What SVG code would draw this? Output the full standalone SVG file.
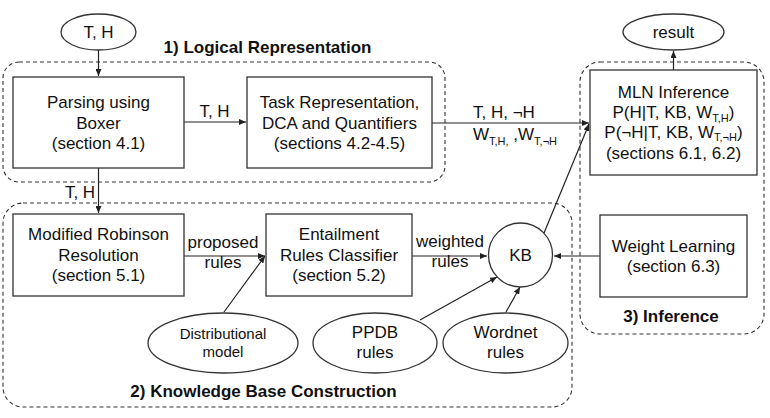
<svg xmlns="http://www.w3.org/2000/svg" width="770" height="418" viewBox="0 0 770 418">
<style>
.box{fill:#fff;stroke:#333;stroke-width:1.3}
.grp{fill:none;stroke:#333;stroke-width:1.1;stroke-dasharray:4 3}
.t{font-family:"Liberation Sans",Arial,sans-serif;font-size:17px;fill:#111;text-anchor:middle}
.s{font-size:15px}
.b{font-weight:bold}
.sub{font-size:11px}
.st{text-anchor:start}
.ln{fill:none;stroke:#222;stroke-width:1.2;marker-end:url(#ah)}
</style>
<defs>
<marker id="ah" markerWidth="8" markerHeight="6" refX="7" refY="3" orient="auto" markerUnits="userSpaceOnUse">
<path d="M0,0 L7,3 L0,6 z" fill="#222"/>
</marker>
</defs>
<rect width="770" height="418" fill="#fff"/>

<g id="groups">
<rect class="grp" x="3" y="62" width="442" height="120" rx="16"/>
<text class="t b" x="267.5" y="53">1) Logical Representation</text>
<rect class="grp" x="3" y="203" width="569" height="204" rx="20"/>
<text class="t b" x="263.5" y="397">2) Knowledge Base Construction</text>
<rect class="grp" x="580" y="62" width="184" height="272" rx="20"/>
<text class="t b" x="671" y="322">3) Inference</text>
</g>

<g id="connectors">
<line class="ln" x1="98.5" y1="50" x2="98.5" y2="76"/>
<line class="ln" x1="184" y1="122" x2="246" y2="122"/>
<text class="t" x="214.5" y="117">T, H</text>
<line class="ln" x1="98.5" y1="168" x2="98.5" y2="213"/>
<text class="t" x="80" y="198">T, H</text>
<line class="ln" x1="432" y1="123" x2="589" y2="123"/>
<text class="t st" x="473" y="118">T, H, ¬H</text>
<text class="t st" x="473" y="140">W<tspan class="sub" dy="5">T,H,</tspan><tspan dy="-5"> ,W</tspan><tspan class="sub" dy="5">T,¬H</tspan></text>
<line class="ln" x1="184" y1="256" x2="265" y2="256"/>
<text class="t" x="223" y="248">proposed</text>
<text class="t" x="223" y="268">rules</text>
<line class="ln" x1="224" y1="312" x2="265" y2="256"/>
<line class="ln" x1="412" y1="256" x2="487" y2="256"/>
<text class="t" x="450" y="247">weighted</text>
<text class="t" x="450" y="267">rules</text>
<line class="ln" x1="420" y1="320" x2="497" y2="277"/>
<line class="ln" x1="506" y1="312" x2="520" y2="287"/>
<line class="ln" x1="600" y1="256" x2="554" y2="256"/>
<line class="ln" x1="544" y1="233" x2="589" y2="124"/>
<line class="ln" x1="673.5" y1="70" x2="673.5" y2="51"/>
</g>

<g id="th">
<ellipse class="box" cx="98.5" cy="32" rx="37.5" ry="18"/>
<text class="t" x="98.5" y="38">T, H</text>
</g>
<g id="parsing">
<rect class="box" x="13" y="77" width="171" height="91"/>
<text class="t" x="98.5" y="108">Parsing using</text>
<text class="t" x="98.5" y="129">Boxer</text>
<text class="t" x="98.5" y="149">(section 4.1)</text>
</g>
<g id="task">
<rect class="box" x="247" y="77" width="185" height="91"/>
<text class="t" x="339.5" y="108">Task Representation,</text>
<text class="t" x="339.5" y="129">DCA and Quantifiers</text>
<text class="t" x="339.5" y="149">(sections 4.2-4.5)</text>
</g>
<g id="result">
<ellipse class="box" cx="673.5" cy="32" rx="50.5" ry="18"/>
<text class="t" x="673.5" y="38">result</text>
</g>
<g id="mln">
<rect class="box" x="590" y="70" width="167" height="105"/>
<text class="t" x="673.5" y="98">MLN Inference</text>
<text class="t" x="673.5" y="118">P(H|T, KB, W<tspan class="sub" dy="4">T,H</tspan><tspan dy="-4">)</tspan></text>
<text class="t" x="673.5" y="138">P(¬H|T, KB, W<tspan class="sub" dy="3">T,¬H</tspan><tspan dy="-3">)</tspan></text>
<text class="t" x="673.5" y="159">(sections 6.1, 6.2)</text>
</g>
<g id="robinson">
<rect class="box" x="13" y="214" width="171" height="82"/>
<text class="t" x="98.5" y="240">Modified Robinson</text>
<text class="t" x="98.5" y="261">Resolution</text>
<text class="t" x="98.5" y="281">(section 5.1)</text>
</g>
<g id="entailment">
<rect class="box" x="266" y="214" width="146" height="82"/>
<text class="t" x="339" y="240">Entailment</text>
<text class="t" x="339" y="261">Rules Classifier</text>
<text class="t" x="339" y="281">(section 5.2)</text>
</g>
<g id="kb">
<circle class="box" cx="520.5" cy="255" r="32"/>
<text class="t" x="520.5" y="261">KB</text>
</g>
<g id="weightlearning">
<rect class="box" x="600" y="215" width="147" height="82"/>
<text class="t" x="673.5" y="252">Weight Learning</text>
<text class="t" x="673.5" y="272">(section 6.3)</text>
</g>
<g id="distributional">
<ellipse class="box" cx="223" cy="343" rx="75" ry="30"/>
<text class="t s" x="223" y="339">Distributional</text>
<text class="t s" x="223" y="357">model</text>
</g>
<g id="ppdb">
<ellipse class="box" cx="375" cy="343" rx="62" ry="30"/>
<text class="t" x="375" y="338">PPDB</text>
<text class="t" x="375" y="358">rules</text>
</g>
<g id="wordnet">
<ellipse class="box" cx="505.5" cy="343" rx="62.5" ry="30"/>
<text class="t" x="505.5" y="338">Wordnet</text>
<text class="t" x="505.5" y="358">rules</text>
</g>
</svg>
